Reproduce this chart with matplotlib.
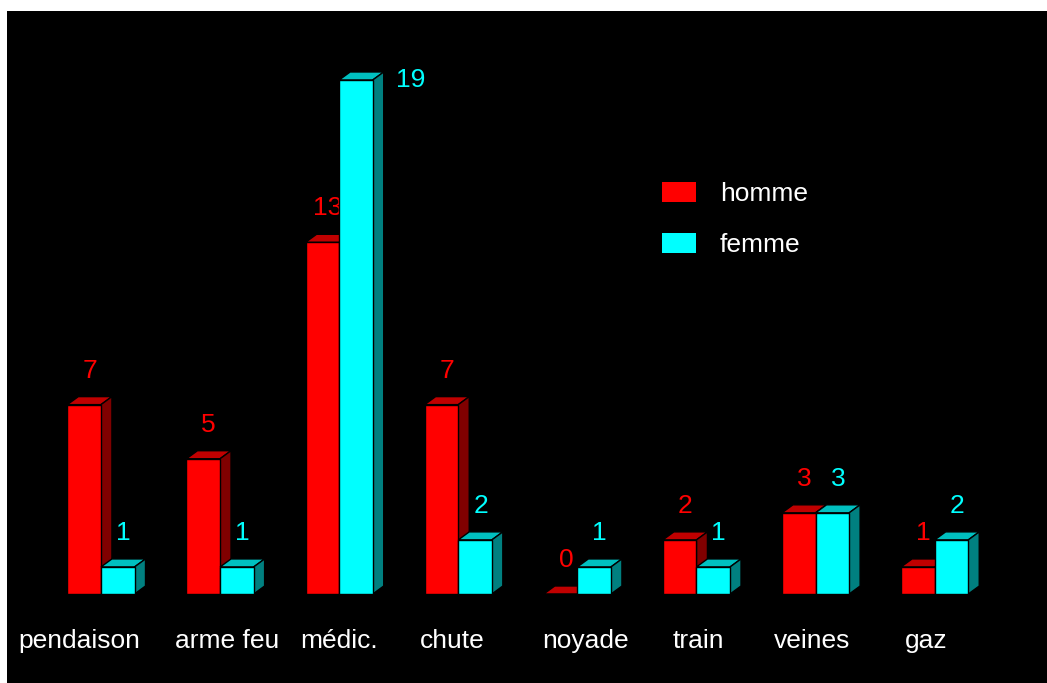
import numpy as np
import matplotlib
matplotlib.use('Agg')
import matplotlib.pyplot as plt
from matplotlib.patches import Polygon, Patch

categories = ['pendaison', 'arme feu', 'médic.', 'chute', 'noyade', 'train', 'veines', 'gaz']
homme = [7, 5, 13, 7, 0, 2, 3, 1]
femme = [1, 1, 19, 2, 1, 1, 3, 2]
series = [('homme', homme, '#ff0000', '#c00000', '#800000'),
          ('femme', femme, '#00ffff', '#00c0c0', '#008080')]

plt.rcParams['font.family'] = ['Liberation Sans', 'DejaVu Sans']

fig = plt.figure(figsize=(10.47, 6.83), dpi=100)
fig.patch.set_facecolor('white')
ax = fig.add_axes([7 / 1047, 0, 1040 / 1047, 672 / 683])
ax.set_facecolor('black')
ax.set_xlim(-0.789, 7.943)
ax.set_ylim(-3.29, 21.55)
for s in ax.spines.values():
    s.set_visible(False)
ax.set_xticks([])
ax.set_yticks([])

w = 0.282
dx, dy = 0.092, 0.296
x = np.arange(len(categories))
vmax = max(max(homme), max(femme))
fs = 19

for k, (name, vals, front, top, side) in enumerate(series):
    xs = x - w + k * w
    ax.bar(xs, vals, width=w, align='edge', color=front, edgecolor='black',
           linewidth=1, zorder=3 + k)
    for xi, v in zip(xs, vals):
        # top face
        ax.add_patch(Polygon([(xi, v), (xi + w, v), (xi + w + dx, v + dy), (xi + dx, v + dy)],
                             closed=True, facecolor=top, edgecolor='black', linewidth=1, zorder=2 + k))
        # side face
        ax.add_patch(Polygon([(xi + w, 0), (xi + w + dx, dy), (xi + w + dx, v + dy), (xi + w, v)],
                             closed=True, facecolor=side, edgecolor='black', linewidth=1, zorder=2 + k))
        if v == vmax:
            ax.annotate(str(v), (xi + w + dx, v), xytext=(9, 0), textcoords='offset points',
                        ha='left', va='center', color=front, fontsize=fs)
        else:
            ax.annotate(str(v), (xi + w / 2 + dx / 2, v + dy), xytext=(0, 10),
                        textcoords='offset points', ha='center', va='bottom',
                        color=front, fontsize=fs)

# category labels are not exactly under the groups in the original
label_shift = [-0.18, 0.06, 0.0, -0.05, 0.07, 0.02, -0.03, -0.07]
for xi, c, sh in zip(x, categories, label_shift):
    ax.text(xi + sh, -1.74, c, ha='center', va='center', color='white', fontsize=fs)

handles = [Patch(facecolor=s[2], edgecolor='none') for s in series]
leg = ax.legend(handles, [s[0] for s in series], loc='upper left',
                bbox_to_anchor=(642 / 1040, 1 - 158 / 672), frameon=False, borderpad=0,
                fontsize=fs, labelcolor='white', handlelength=1.29, handleheight=0.79,
                handletextpad=0.9, labelspacing=1.02)

fig.savefig('out.png', dpi=100, facecolor=fig.get_facecolor())
